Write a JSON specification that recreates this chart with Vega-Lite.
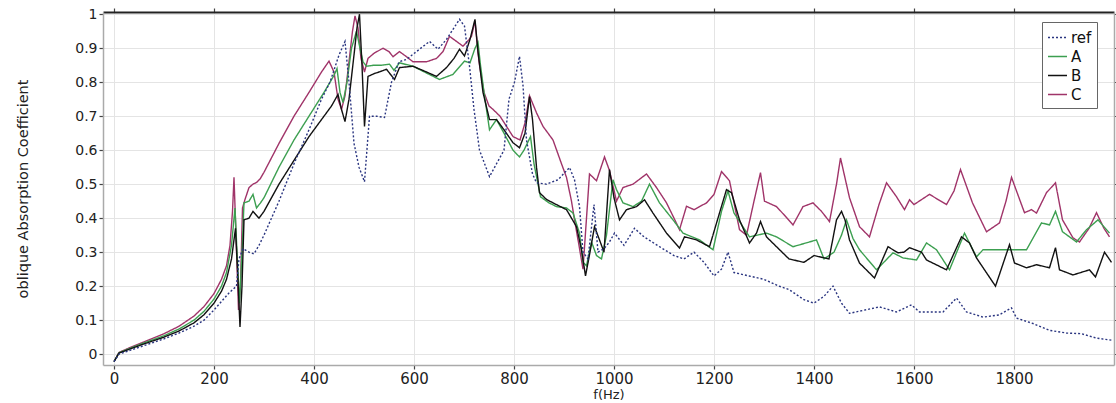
{
  "$schema": "https://vega.github.io/schema/vega-lite/v6.json",
  "width": 1011,
  "height": 353,
  "autosize": {"type": "none"},
  "padding": {"left": 103, "top": 12, "right": 2, "bottom": 38},
  "background": "white",
  "config": {
    "view": {"stroke": null},
    "font": "DejaVu Sans"
  },
  "datasets": {
    "curves": [
      {"s":"C","f":0,"v":-0.022},{"s":"C","f":10,"v":0.005},{"s":"C","f":30,"v":0.018},{"s":"C","f":60,"v":0.036},{"s":"C","f":100,"v":0.06},{"s":"C","f":130,"v":0.082},{"s":"C","f":160,"v":0.112},{"s":"C","f":180,"v":0.14},{"s":"C","f":200,"v":0.178},{"s":"C","f":215,"v":0.22},{"s":"C","f":225,"v":0.26},{"s":"C","f":232,"v":0.32},{"s":"C","f":237,"v":0.42},{"s":"C","f":240,"v":0.52},{"s":"C","f":244,"v":0.35},{"s":"C","f":249,"v":0.13},{"s":"C","f":253,"v":0.2},{"s":"C","f":257,"v":0.43},{"s":"C","f":262,"v":0.455},{"s":"C","f":270,"v":0.49},{"s":"C","f":278,"v":0.5},{"s":"C","f":285,"v":0.505},{"s":"C","f":292,"v":0.515},{"s":"C","f":300,"v":0.535},{"s":"C","f":330,"v":0.62},{"s":"C","f":360,"v":0.7},{"s":"C","f":390,"v":0.77},{"s":"C","f":415,"v":0.83},{"s":"C","f":430,"v":0.862},{"s":"C","f":440,"v":0.83},{"s":"C","f":448,"v":0.75},{"s":"C","f":455,"v":0.72},{"s":"C","f":462,"v":0.76},{"s":"C","f":470,"v":0.86},{"s":"C","f":477,"v":0.95},{"s":"C","f":482,"v":0.995},{"s":"C","f":488,"v":0.96},{"s":"C","f":494,"v":0.87},{"s":"C","f":501,"v":0.83},{"s":"C","f":508,"v":0.87},{"s":"C","f":520,"v":0.885},{"s":"C","f":538,"v":0.9},{"s":"C","f":550,"v":0.89},{"s":"C","f":558,"v":0.875},{"s":"C","f":571,"v":0.89},{"s":"C","f":585,"v":0.875},{"s":"C","f":598,"v":0.86},{"s":"C","f":625,"v":0.86},{"s":"C","f":645,"v":0.87},{"s":"C","f":658,"v":0.89},{"s":"C","f":671,"v":0.935},{"s":"C","f":685,"v":0.92},{"s":"C","f":698,"v":0.906},{"s":"C","f":710,"v":0.925},{"s":"C","f":715,"v":0.935},{"s":"C","f":722,"v":0.98},{"s":"C","f":727,"v":0.9},{"s":"C","f":731,"v":0.85},{"s":"C","f":740,"v":0.77},{"s":"C","f":750,"v":0.73},{"s":"C","f":758,"v":0.72},{"s":"C","f":772,"v":0.7},{"s":"C","f":785,"v":0.67},{"s":"C","f":798,"v":0.64},{"s":"C","f":812,"v":0.63},{"s":"C","f":822,"v":0.68},{"s":"C","f":831,"v":0.76},{"s":"C","f":845,"v":0.71},{"s":"C","f":858,"v":0.67},{"s":"C","f":878,"v":0.63},{"s":"C","f":895,"v":0.56},{"s":"C","f":905,"v":0.52},{"s":"C","f":915,"v":0.45},{"s":"C","f":921,"v":0.395},{"s":"C","f":930,"v":0.32},{"s":"C","f":938,"v":0.25},{"s":"C","f":945,"v":0.4},{"s":"C","f":951,"v":0.53},{"s":"C","f":965,"v":0.51},{"s":"C","f":981,"v":0.58},{"s":"C","f":991,"v":0.54},{"s":"C","f":1005,"v":0.45},{"s":"C","f":1018,"v":0.49},{"s":"C","f":1038,"v":0.5},{"s":"C","f":1065,"v":0.53},{"s":"C","f":1085,"v":0.49},{"s":"C","f":1105,"v":0.445},{"s":"C","f":1120,"v":0.4},{"s":"C","f":1131,"v":0.366},{"s":"C","f":1145,"v":0.435},{"s":"C","f":1160,"v":0.425},{"s":"C","f":1185,"v":0.445},{"s":"C","f":1200,"v":0.47},{"s":"C","f":1215,"v":0.537},{"s":"C","f":1231,"v":0.51},{"s":"C","f":1251,"v":0.366},{"s":"C","f":1265,"v":0.35},{"s":"C","f":1280,"v":0.45},{"s":"C","f":1293,"v":0.534},{"s":"C","f":1301,"v":0.45},{"s":"C","f":1325,"v":0.434},{"s":"C","f":1340,"v":0.41},{"s":"C","f":1358,"v":0.38},{"s":"C","f":1378,"v":0.434},{"s":"C","f":1398,"v":0.445},{"s":"C","f":1415,"v":0.42},{"s":"C","f":1431,"v":0.39},{"s":"C","f":1445,"v":0.5},{"s":"C","f":1453,"v":0.577},{"s":"C","f":1471,"v":0.46},{"s":"C","f":1491,"v":0.375},{"s":"C","f":1511,"v":0.345},{"s":"C","f":1530,"v":0.44},{"s":"C","f":1545,"v":0.504},{"s":"C","f":1565,"v":0.463},{"s":"C","f":1581,"v":0.425},{"s":"C","f":1591,"v":0.454},{"s":"C","f":1600,"v":0.44},{"s":"C","f":1631,"v":0.47},{"s":"C","f":1665,"v":0.44},{"s":"C","f":1680,"v":0.48},{"s":"C","f":1693,"v":0.543},{"s":"C","f":1717,"v":0.445},{"s":"C","f":1745,"v":0.36},{"s":"C","f":1771,"v":0.386},{"s":"C","f":1784,"v":0.45},{"s":"C","f":1795,"v":0.52},{"s":"C","f":1821,"v":0.416},{"s":"C","f":1835,"v":0.425},{"s":"C","f":1845,"v":0.415},{"s":"C","f":1865,"v":0.475},{"s":"C","f":1883,"v":0.504},{"s":"C","f":1897,"v":0.395},{"s":"C","f":1918,"v":0.342},{"s":"C","f":1931,"v":0.33},{"s":"C","f":1950,"v":0.37},{"s":"C","f":1965,"v":0.416},{"s":"C","f":1980,"v":0.37},{"s":"C","f":1991,"v":0.345},

      {"s":"A","f":0,"v":-0.022},{"s":"A","f":10,"v":0.004},{"s":"A","f":30,"v":0.016},{"s":"A","f":60,"v":0.033},{"s":"A","f":100,"v":0.054},{"s":"A","f":130,"v":0.074},{"s":"A","f":160,"v":0.1},{"s":"A","f":180,"v":0.126},{"s":"A","f":200,"v":0.162},{"s":"A","f":215,"v":0.2},{"s":"A","f":225,"v":0.24},{"s":"A","f":235,"v":0.32},{"s":"A","f":242,"v":0.43},{"s":"A","f":246,"v":0.3},{"s":"A","f":251,"v":0.15},{"s":"A","f":256,"v":0.3},{"s":"A","f":260,"v":0.445},{"s":"A","f":270,"v":0.45},{"s":"A","f":278,"v":0.47},{"s":"A","f":285,"v":0.43},{"s":"A","f":293,"v":0.445},{"s":"A","f":300,"v":0.46},{"s":"A","f":330,"v":0.55},{"s":"A","f":360,"v":0.63},{"s":"A","f":390,"v":0.7},{"s":"A","f":420,"v":0.77},{"s":"A","f":432,"v":0.8},{"s":"A","f":440,"v":0.82},{"s":"A","f":446,"v":0.84},{"s":"A","f":452,"v":0.77},{"s":"A","f":458,"v":0.74},{"s":"A","f":466,"v":0.8},{"s":"A","f":475,"v":0.9},{"s":"A","f":485,"v":0.95},{"s":"A","f":492,"v":0.9},{"s":"A","f":498,"v":0.86},{"s":"A","f":505,"v":0.847},{"s":"A","f":520,"v":0.85},{"s":"A","f":535,"v":0.85},{"s":"A","f":551,"v":0.853},{"s":"A","f":560,"v":0.835},{"s":"A","f":571,"v":0.857},{"s":"A","f":598,"v":0.847},{"s":"A","f":625,"v":0.827},{"s":"A","f":651,"v":0.808},{"s":"A","f":678,"v":0.823},{"s":"A","f":701,"v":0.862},{"s":"A","f":712,"v":0.857},{"s":"A","f":722,"v":0.9},{"s":"A","f":728,"v":0.917},{"s":"A","f":733,"v":0.85},{"s":"A","f":740,"v":0.77},{"s":"A","f":751,"v":0.66},{"s":"A","f":765,"v":0.69},{"s":"A","f":780,"v":0.65},{"s":"A","f":798,"v":0.6},{"s":"A","f":811,"v":0.58},{"s":"A","f":820,"v":0.6},{"s":"A","f":833,"v":0.64},{"s":"A","f":840,"v":0.56},{"s":"A","f":853,"v":0.463},{"s":"A","f":870,"v":0.445},{"s":"A","f":885,"v":0.434},{"s":"A","f":905,"v":0.43},{"s":"A","f":918,"v":0.415},{"s":"A","f":931,"v":0.356},{"s":"A","f":938,"v":0.27},{"s":"A","f":945,"v":0.26},{"s":"A","f":955,"v":0.33},{"s":"A","f":965,"v":0.29},{"s":"A","f":975,"v":0.28},{"s":"A","f":985,"v":0.35},{"s":"A","f":998,"v":0.513},{"s":"A","f":1005,"v":0.484},{"s":"A","f":1018,"v":0.445},{"s":"A","f":1038,"v":0.434},{"s":"A","f":1055,"v":0.45},{"s":"A","f":1071,"v":0.5},{"s":"A","f":1091,"v":0.445},{"s":"A","f":1118,"v":0.395},{"s":"A","f":1138,"v":0.356},{"s":"A","f":1171,"v":0.336},{"s":"A","f":1198,"v":0.307},{"s":"A","f":1215,"v":0.42},{"s":"A","f":1228,"v":0.48},{"s":"A","f":1240,"v":0.415},{"s":"A","f":1271,"v":0.345},{"s":"A","f":1305,"v":0.356},{"s":"A","f":1325,"v":0.345},{"s":"A","f":1358,"v":0.316},{"s":"A","f":1391,"v":0.33},{"s":"A","f":1405,"v":0.336},{"s":"A","f":1420,"v":0.28},{"s":"A","f":1440,"v":0.3},{"s":"A","f":1455,"v":0.35},{"s":"A","f":1465,"v":0.395},{"s":"A","f":1478,"v":0.34},{"s":"A","f":1491,"v":0.307},{"s":"A","f":1525,"v":0.248},{"s":"A","f":1558,"v":0.298},{"s":"A","f":1578,"v":0.283},{"s":"A","f":1605,"v":0.277},{"s":"A","f":1625,"v":0.327},{"s":"A","f":1645,"v":0.307},{"s":"A","f":1671,"v":0.248},{"s":"A","f":1701,"v":0.356},{"s":"A","f":1725,"v":0.286},{"s":"A","f":1738,"v":0.307},{"s":"A","f":1785,"v":0.307},{"s":"A","f":1825,"v":0.307},{"s":"A","f":1855,"v":0.386},{"s":"A","f":1871,"v":0.38},{"s":"A","f":1883,"v":0.42},{"s":"A","f":1897,"v":0.36},{"s":"A","f":1925,"v":0.33},{"s":"A","f":1945,"v":0.366},{"s":"A","f":1968,"v":0.395},{"s":"A","f":1991,"v":0.356},

      {"s":"B","f":0,"v":-0.022},{"s":"B","f":10,"v":0.003},{"s":"B","f":30,"v":0.014},{"s":"B","f":60,"v":0.03},{"s":"B","f":100,"v":0.05},{"s":"B","f":130,"v":0.068},{"s":"B","f":160,"v":0.092},{"s":"B","f":180,"v":0.116},{"s":"B","f":200,"v":0.15},{"s":"B","f":215,"v":0.185},{"s":"B","f":225,"v":0.22},{"s":"B","f":235,"v":0.28},{"s":"B","f":243,"v":0.37},{"s":"B","f":247,"v":0.25},{"s":"B","f":252,"v":0.08},{"s":"B","f":256,"v":0.2},{"s":"B","f":260,"v":0.395},{"s":"B","f":270,"v":0.4},{"s":"B","f":278,"v":0.42},{"s":"B","f":290,"v":0.4},{"s":"B","f":300,"v":0.42},{"s":"B","f":330,"v":0.5},{"s":"B","f":360,"v":0.57},{"s":"B","f":390,"v":0.64},{"s":"B","f":420,"v":0.7},{"s":"B","f":435,"v":0.73},{"s":"B","f":448,"v":0.764},{"s":"B","f":455,"v":0.72},{"s":"B","f":462,"v":0.684},{"s":"B","f":470,"v":0.75},{"s":"B","f":480,"v":0.88},{"s":"B","f":486,"v":0.96},{"s":"B","f":491,"v":1.0},{"s":"B","f":496,"v":0.85},{"s":"B","f":501,"v":0.67},{"s":"B","f":508,"v":0.817},{"s":"B","f":520,"v":0.825},{"s":"B","f":530,"v":0.83},{"s":"B","f":545,"v":0.838},{"s":"B","f":561,"v":0.808},{"s":"B","f":571,"v":0.843},{"s":"B","f":598,"v":0.847},{"s":"B","f":625,"v":0.83},{"s":"B","f":645,"v":0.817},{"s":"B","f":665,"v":0.843},{"s":"B","f":680,"v":0.87},{"s":"B","f":691,"v":0.897},{"s":"B","f":701,"v":0.877},{"s":"B","f":712,"v":0.926},{"s":"B","f":722,"v":0.985},{"s":"B","f":728,"v":0.89},{"s":"B","f":738,"v":0.77},{"s":"B","f":751,"v":0.69},{"s":"B","f":765,"v":0.69},{"s":"B","f":780,"v":0.66},{"s":"B","f":798,"v":0.622},{"s":"B","f":811,"v":0.607},{"s":"B","f":822,"v":0.65},{"s":"B","f":831,"v":0.758},{"s":"B","f":837,"v":0.69},{"s":"B","f":845,"v":0.55},{"s":"B","f":851,"v":0.475},{"s":"B","f":865,"v":0.455},{"s":"B","f":878,"v":0.445},{"s":"B","f":905,"v":0.425},{"s":"B","f":925,"v":0.375},{"s":"B","f":935,"v":0.307},{"s":"B","f":943,"v":0.23},{"s":"B","f":952,"v":0.3},{"s":"B","f":961,"v":0.375},{"s":"B","f":971,"v":0.336},{"s":"B","f":980,"v":0.3},{"s":"B","f":991,"v":0.543},{"s":"B","f":1000,"v":0.46},{"s":"B","f":1011,"v":0.395},{"s":"B","f":1025,"v":0.425},{"s":"B","f":1045,"v":0.434},{"s":"B","f":1061,"v":0.454},{"s":"B","f":1078,"v":0.415},{"s":"B","f":1105,"v":0.356},{"s":"B","f":1131,"v":0.312},{"s":"B","f":1141,"v":0.345},{"s":"B","f":1165,"v":0.336},{"s":"B","f":1191,"v":0.316},{"s":"B","f":1211,"v":0.415},{"s":"B","f":1225,"v":0.484},{"s":"B","f":1235,"v":0.475},{"s":"B","f":1251,"v":0.395},{"s":"B","f":1271,"v":0.327},{"s":"B","f":1285,"v":0.356},{"s":"B","f":1293,"v":0.39},{"s":"B","f":1305,"v":0.345},{"s":"B","f":1325,"v":0.316},{"s":"B","f":1350,"v":0.28},{"s":"B","f":1380,"v":0.27},{"s":"B","f":1400,"v":0.29},{"s":"B","f":1430,"v":0.28},{"s":"B","f":1445,"v":0.395},{"s":"B","f":1455,"v":0.42},{"s":"B","f":1462,"v":0.395},{"s":"B","f":1471,"v":0.336},{"s":"B","f":1491,"v":0.268},{"s":"B","f":1521,"v":0.224},{"s":"B","f":1548,"v":0.316},{"s":"B","f":1568,"v":0.298},{"s":"B","f":1580,"v":0.3},{"s":"B","f":1591,"v":0.313},{"s":"B","f":1615,"v":0.3},{"s":"B","f":1625,"v":0.277},{"s":"B","f":1665,"v":0.248},{"s":"B","f":1695,"v":0.345},{"s":"B","f":1711,"v":0.327},{"s":"B","f":1725,"v":0.283},{"s":"B","f":1763,"v":0.2},{"s":"B","f":1791,"v":0.322},{"s":"B","f":1801,"v":0.268},{"s":"B","f":1825,"v":0.254},{"s":"B","f":1845,"v":0.263},{"s":"B","f":1871,"v":0.254},{"s":"B","f":1883,"v":0.313},{"s":"B","f":1891,"v":0.248},{"s":"B","f":1918,"v":0.233},{"s":"B","f":1951,"v":0.248},{"s":"B","f":1963,"v":0.227},{"s":"B","f":1981,"v":0.3},{"s":"B","f":1995,"v":0.27},

      {"s":"ref","f":0,"v":-0.022},{"s":"ref","f":10,"v":0.0},{"s":"ref","f":30,"v":0.01},{"s":"ref","f":60,"v":0.025},{"s":"ref","f":100,"v":0.045},{"s":"ref","f":130,"v":0.062},{"s":"ref","f":160,"v":0.082},{"s":"ref","f":180,"v":0.1},{"s":"ref","f":200,"v":0.13},{"s":"ref","f":215,"v":0.155},{"s":"ref","f":230,"v":0.18},{"s":"ref","f":245,"v":0.2},{"s":"ref","f":250,"v":0.28},{"s":"ref","f":258,"v":0.31},{"s":"ref","f":270,"v":0.3},{"s":"ref","f":280,"v":0.295},{"s":"ref","f":290,"v":0.32},{"s":"ref","f":300,"v":0.35},{"s":"ref","f":330,"v":0.45},{"s":"ref","f":360,"v":0.56},{"s":"ref","f":390,"v":0.66},{"s":"ref","f":415,"v":0.75},{"s":"ref","f":432,"v":0.8},{"s":"ref","f":450,"v":0.88},{"s":"ref","f":462,"v":0.92},{"s":"ref","f":470,"v":0.8},{"s":"ref","f":480,"v":0.62},{"s":"ref","f":490,"v":0.55},{"s":"ref","f":501,"v":0.507},{"s":"ref","f":511,"v":0.7},{"s":"ref","f":525,"v":0.7},{"s":"ref","f":541,"v":0.696},{"s":"ref","f":555,"v":0.8},{"s":"ref","f":570,"v":0.86},{"s":"ref","f":585,"v":0.867},{"s":"ref","f":611,"v":0.897},{"s":"ref","f":631,"v":0.92},{"s":"ref","f":648,"v":0.897},{"s":"ref","f":665,"v":0.926},{"s":"ref","f":691,"v":0.985},{"s":"ref","f":701,"v":0.965},{"s":"ref","f":711,"v":0.847},{"s":"ref","f":720,"v":0.72},{"s":"ref","f":731,"v":0.6},{"s":"ref","f":751,"v":0.522},{"s":"ref","f":765,"v":0.56},{"s":"ref","f":780,"v":0.6},{"s":"ref","f":790,"v":0.75},{"s":"ref","f":801,"v":0.8},{"s":"ref","f":811,"v":0.876},{"s":"ref","f":818,"v":0.79},{"s":"ref","f":825,"v":0.63},{"s":"ref","f":837,"v":0.53},{"s":"ref","f":845,"v":0.504},{"s":"ref","f":865,"v":0.5},{"s":"ref","f":888,"v":0.513},{"s":"ref","f":911,"v":0.549},{"s":"ref","f":921,"v":0.513},{"s":"ref","f":931,"v":0.434},{"s":"ref","f":938,"v":0.3},{"s":"ref","f":948,"v":0.28},{"s":"ref","f":960,"v":0.44},{"s":"ref","f":968,"v":0.3},{"s":"ref","f":980,"v":0.31},{"s":"ref","f":991,"v":0.33},{"s":"ref","f":1001,"v":0.356},{"s":"ref","f":1020,"v":0.32},{"s":"ref","f":1041,"v":0.37},{"s":"ref","f":1060,"v":0.345},{"s":"ref","f":1091,"v":0.316},{"s":"ref","f":1120,"v":0.29},{"s":"ref","f":1140,"v":0.28},{"s":"ref","f":1160,"v":0.3},{"s":"ref","f":1180,"v":0.27},{"s":"ref","f":1200,"v":0.23},{"s":"ref","f":1215,"v":0.25},{"s":"ref","f":1228,"v":0.3},{"s":"ref","f":1240,"v":0.24},{"s":"ref","f":1270,"v":0.23},{"s":"ref","f":1300,"v":0.22},{"s":"ref","f":1330,"v":0.2},{"s":"ref","f":1350,"v":0.19},{"s":"ref","f":1380,"v":0.16},{"s":"ref","f":1400,"v":0.15},{"s":"ref","f":1420,"v":0.17},{"s":"ref","f":1438,"v":0.2},{"s":"ref","f":1455,"v":0.15},{"s":"ref","f":1471,"v":0.12},{"s":"ref","f":1531,"v":0.139},{"s":"ref","f":1565,"v":0.124},{"s":"ref","f":1595,"v":0.145},{"s":"ref","f":1611,"v":0.124},{"s":"ref","f":1658,"v":0.124},{"s":"ref","f":1685,"v":0.165},{"s":"ref","f":1705,"v":0.124},{"s":"ref","f":1738,"v":0.109},{"s":"ref","f":1770,"v":0.115},{"s":"ref","f":1795,"v":0.136},{"s":"ref","f":1805,"v":0.106},{"s":"ref","f":1838,"v":0.09},{"s":"ref","f":1871,"v":0.07},{"s":"ref","f":1905,"v":0.062},{"s":"ref","f":1935,"v":0.06},{"s":"ref","f":1965,"v":0.047},{"s":"ref","f":1995,"v":0.041}
    ]
  },
  "data": {"name": "curves"},
  "layer": [
    {
      "mark": {"type": "line", "strokeWidth": 1.4, "clip": true, "interpolate": "linear"},
      "encoding": {
        "x": {
          "field": "f", "type": "quantitative",
          "scale": {"domain": [-22, 2000], "nice": false, "zero": false},
          "axis": {
            "orient": "bottom",
            "values": [0, 200, 400, 600, 800, 1000, 1200, 1400, 1600, 1800],
            "format": "d",
            "title": "f(Hz)",
            "titleFont": "DejaVu Sans", "titleFontSize": 13, "titleFontWeight": "normal", "titleColor": "#222",
            "titlePadding": 2,
            "labelFont": "DejaVu Sans", "labelFontSize": 15, "labelColor": "#222",
            "labelPadding": 2,
            "grid": true, "gridColor": "#e4e4e4", "gridWidth": 1,
            "domainColor": "#aaaaaa", "domainWidth": 1.5,
            "tickColor": "#444444", "tickSize": 4, "tickWidth": 1.2
          }
        },
        "y": {
          "field": "v", "type": "quantitative",
          "scale": {"domain": [-0.032, 1.0065], "nice": false, "zero": false},
          "axis": {
            "orient": "left",
            "values": [0, 0.1, 0.2, 0.3, 0.4, 0.5, 0.6, 0.7, 0.8, 0.9, 1],
            "format": ".1~f",
            "title": "oblique Absorption Coefficient",
            "titleFont": "DejaVu Sans", "titleFontSize": 14.5, "titleFontWeight": "normal", "titleColor": "#222",
            "titlePadding": 44,
            "labelFont": "DejaVu Sans", "labelFontSize": 14, "labelColor": "#222",
            "labelPadding": 2,
            "grid": true, "gridColor": "#e4e4e4", "gridWidth": 1,
            "domainColor": "#aaaaaa", "domainWidth": 1.5,
            "tickColor": "#444444", "tickSize": 4, "tickWidth": 1.2
          }
        },
        "color": {
          "field": "s", "type": "nominal",
          "scale": {"domain": ["ref", "A", "B", "C"], "range": ["#2a3580", "#3c9f50", "#111111", "#a03469"]},
          "legend": {
            "orient": "none", "legendX": 939, "legendY": 10,
            "title": null,
            "fillColor": "white", "strokeColor": "#666666",
            "padding": 5,
            "symbolType": "stroke", "symbolSize": 361, "symbolStrokeWidth": 1.4,
            "labelFont": "DejaVu Sans", "labelFontSize": 15, "labelColor": "#111",
            "labelOffset": 3, "rowPadding": 0
          }
        },
        "strokeDash": {
          "field": "s", "type": "nominal",
          "scale": {"domain": ["ref", "A", "B", "C"], "range": [[2, 2], [1, 0], [1, 0], [1, 0]]},
          "legend": null
        }
      }
    },
    {
      "mark": {"type": "rule", "strokeWidth": 0},
      "encoding": {
        "x": {
          "datum": 0, "type": "quantitative",
          "axis": {
            "orient": "top", "values": [0, 200, 400, 600, 800, 1000, 1200, 1400, 1600, 1800],
            "labels": false, "title": null, "grid": false,
            "domainColor": "#222222", "domainWidth": 2,
            "tickColor": "#444444", "tickSize": 4, "tickWidth": 1.2
          }
        },
        "y": {
          "datum": 0, "type": "quantitative",
          "axis": {
            "orient": "right", "values": [0, 0.1, 0.2, 0.3, 0.4, 0.5, 0.6, 0.7, 0.8, 0.9, 1],
            "labels": false, "title": null, "grid": false,
            "domainColor": "#aaaaaa", "domainWidth": 1.5,
            "tickColor": "#444444", "tickSize": 4, "tickWidth": 1.2
          }
        }
      }
    }
  ],
  "resolve": {"axis": {"x": "independent", "y": "independent"}}
}
